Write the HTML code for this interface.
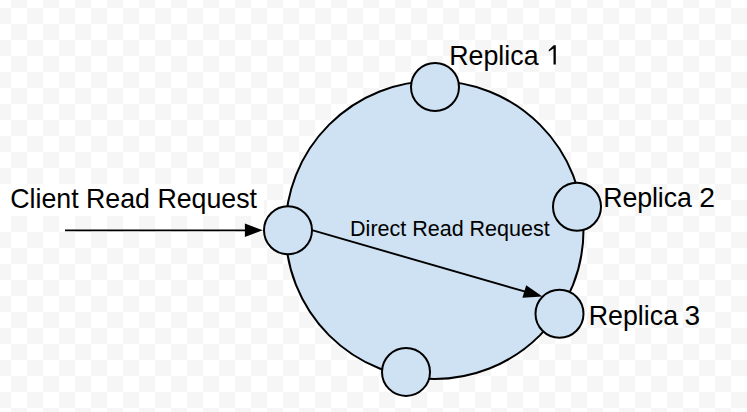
<!DOCTYPE html>
<html><head><meta charset="utf-8">
<style>
html,body{margin:0;padding:0;width:747px;height:412px;overflow:hidden;background:#fff}
svg{display:block}
text{font-family:"Liberation Sans",sans-serif;fill:#000}
</style></head><body>
<svg width="747" height="412" viewBox="0 0 747 412">
<defs>
<pattern id="chk" x="-5" y="-8" width="32" height="32" patternUnits="userSpaceOnUse">
<rect x="0" y="0" width="32" height="32" fill="#fff"/>
<rect x="16" y="0" width="16" height="16" fill="#f6f6f6"/>
<rect x="0" y="16" width="16" height="16" fill="#f6f6f6"/>
</pattern>
</defs>
<rect x="0" y="0" width="747" height="412" fill="url(#chk)"/>
<rect x="0" y="184" width="264" height="32" fill="#fff"/>
<circle cx="434.5" cy="230" r="149" fill="#cfe2f3" stroke="#000" stroke-width="2"/>
<circle cx="435" cy="87" r="24" fill="#cfe2f3" stroke="#000" stroke-width="2"/>
<circle cx="288" cy="230.3" r="24" fill="#cfe2f3" stroke="#000" stroke-width="2"/>
<circle cx="577" cy="206.7" r="24" fill="#cfe2f3" stroke="#000" stroke-width="2"/>
<circle cx="559.5" cy="313.7" r="24" fill="#cfe2f3" stroke="#000" stroke-width="2"/>
<circle cx="406" cy="371.9" r="24" fill="#cfe2f3" stroke="#000" stroke-width="2"/>
<line x1="65" y1="230.4" x2="248" y2="230.4" stroke="#000" stroke-width="1.8"/>
<polygon points="244.9,223.6 262.8,230.2 244.9,236.9" fill="#000"/>
<line x1="312" y1="230.2" x2="528" y2="292.4" stroke="#000" stroke-width="1.9"/>
<polygon points="526.2,285.2 542.4,296.6 522.4,297.8" fill="#000"/>
<text x="10.2" y="208" font-size="26.75">Client Read Request</text>
<text x="350.1" y="236" font-size="21.5">Direct Read Request</text>
<text x="449.3" y="65" font-size="26.75">Replica</text>
<polygon points="553.7,45.3 555.8,45.3 555.8,64.6 553.5,64.6 553.5,48.6 548.9,51.6 548.7,49.9" fill="#000"/>
<text x="603.2" y="207" font-size="26.75" letter-spacing="-0.1">Replica</text>
<text x="699.3" y="207" font-size="28.3">2</text>
<text x="588.8" y="324.5" font-size="26.75">Replica</text>
<text x="684.6" y="324.5" font-size="28">3</text>
</svg>
</body></html>
